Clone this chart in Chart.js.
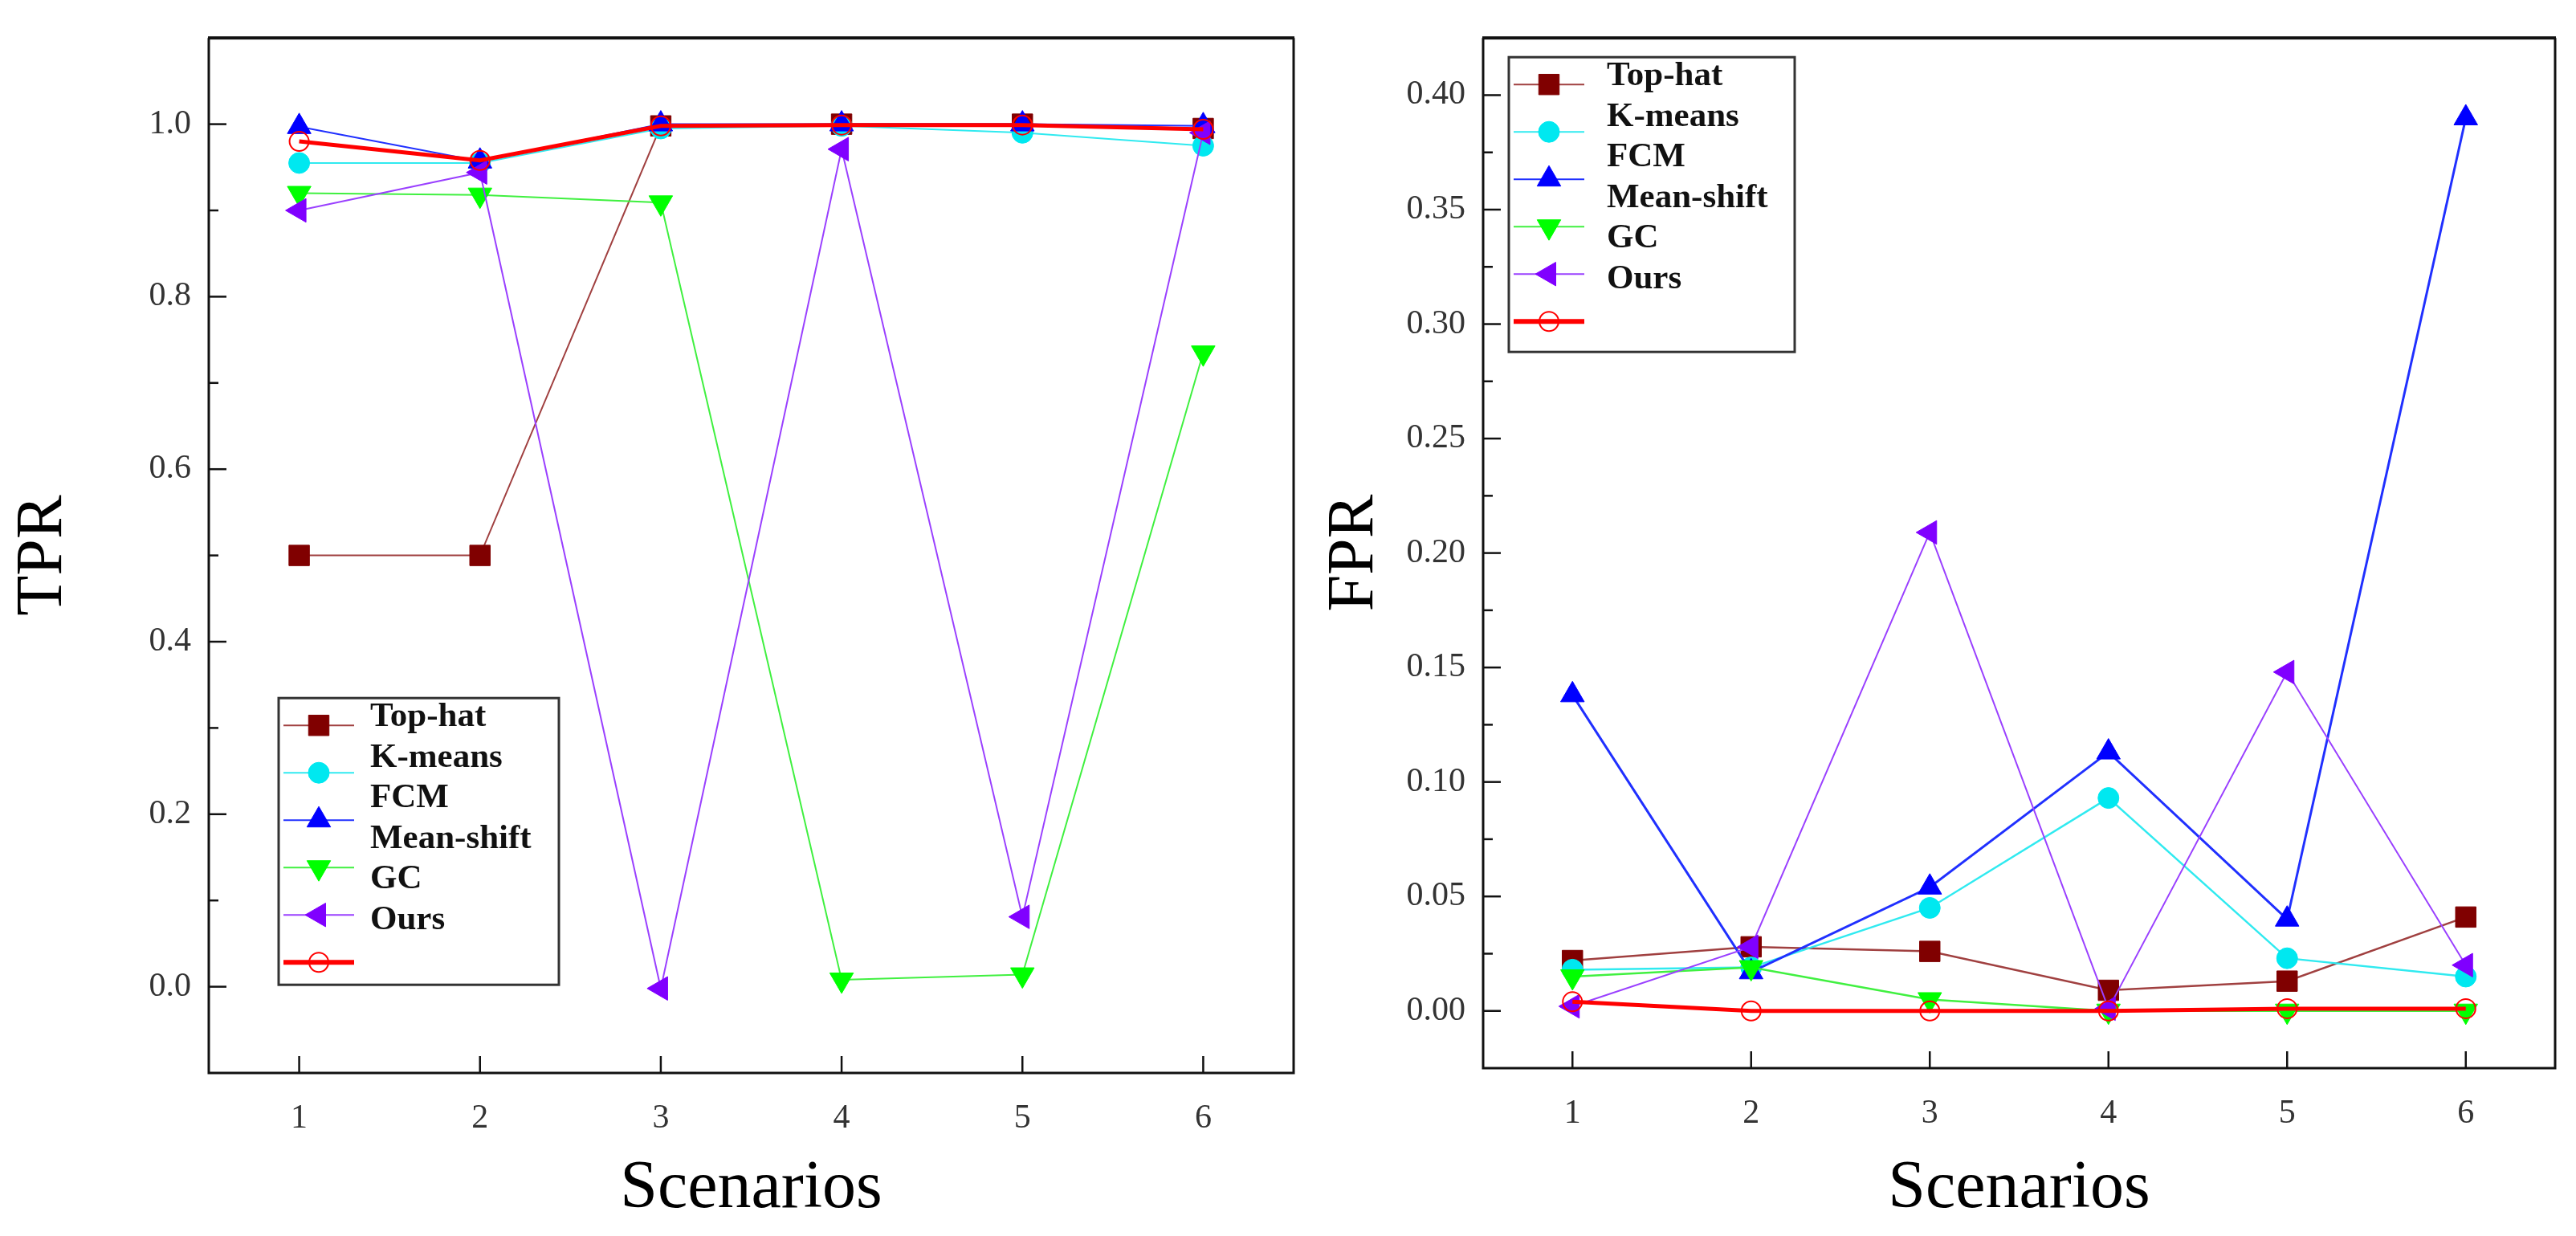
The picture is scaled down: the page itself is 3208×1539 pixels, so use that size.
<!DOCTYPE html>
<html>
<head>
<meta charset="utf-8">
<script src="https://cdn.jsdelivr.net/npm/chart.js@4.4.0/dist/chart.umd.min.js"></script>
<style>
  html, body { margin: 0; padding: 0; background: #fff; }
  body { width: 3208px; height: 1539px; position: relative; overflow: hidden; }
  .box { position: absolute; top: 0; height: 1539px; }
  #boxL { left: 0; width: 1630px; }
  #boxR { left: 1630px; width: 1578px; }
</style>
</head>
<body>
<div class="box" id="boxL"><canvas id="tpr"></canvas></div>
<div class="box" id="boxR"><canvas id="fpr"></canvas></div>
<script>
// datos
const scenarios = ['1', '2', '3', '4', '5', '6'];
const methods   = ['Top-hat', 'K-means', 'FCM', 'Mean-shift', 'GC', 'Ours'];

const tprTopHat    = [0.500, 0.500, 0.998, 1.000, 1.000, 0.995];
const tprKMeans    = [0.955, 0.955, 0.995, 0.998, 0.990, 0.975];
const tprFCM       = [0.997, 0.957, 1.000, 1.000, 1.000, 0.998];
const tprMeanShift = [0.920, 0.918, 0.909, 0.008, 0.014, 0.735];
const tprGC        = [0.900, 0.944, -0.002, 0.971, 0.081, 0.990];
const tprOurs      = [0.980, 0.958, 0.998, 0.999, 0.999, 0.994];

const fprTopHat    = [0.022, 0.028, 0.026, 0.009, 0.013, 0.041];
const fprKMeans    = [0.018, 0.019, 0.045, 0.093, 0.023, 0.015];
const fprFCM       = [0.138, 0.017, 0.054, 0.113, 0.040, 0.390];
const fprMeanShift = [0.015, 0.019, 0.005, 0.000, 0.000, 0.000];
const fprGC        = [0.002, 0.028, 0.209, 0.001, 0.148, 0.020];
const fprOurs      = [0.004, 0.000, 0.000, 0.000, 0.001, 0.001];

const tprTicks = [0.0, 0.2, 0.4, 0.6, 0.8, 1.0];
const fprTicks = [0.00, 0.05, 0.10, 0.15, 0.20, 0.25, 0.30, 0.35, 0.40];

const SERIF = '"Liberation Serif", "Times New Roman", serif';

// estilo de cada serie (marcador, color, grosor)
const styles = [
  { line: '#a04040', fill: '#800000', shape: 'rect',     rot: 0,   r: 18, w: 2 },
  { line: '#30eaf0', fill: '#00e8f0', shape: 'circle',   rot: 0,   r: 13, w: 2 },
  { line: '#2030ff', fill: '#0000ff', shape: 'triangle', rot: 0,   r: 17, w: 2 },
  { line: '#40f040', fill: '#00ff00', shape: 'triangle', rot: 180, r: 17, w: 2 },
  { line: '#9a40ff', fill: '#8000ff', shape: 'triangle', rot: 270, r: 17, w: 2 },
  { line: '#ff0000', fill: 'rgba(255,255,255,0)', shape: 'circle', rot: 0, r: 12, w: 5, open: true }
];

function makeSets(series, widths) {
  return series.map((vals, i) => {
    const s = styles[i];
    return {
      label: methods[i],
      data: vals,
      borderColor: s.line,
      borderWidth: widths[i],
      backgroundColor: s.fill,
      pointStyle: s.shape,
      pointRotation: s.rot,
      pointRadius: s.r,
      pointHoverRadius: s.r,
      pointBackgroundColor: s.fill,
      pointBorderColor: s.open ? '#ff0000' : s.fill,
      pointBorderWidth: s.open ? 2 : 1,
      order: s.open ? 0 : 6 - i,
      tension: 0,
      clip: false
    };
  });
}

// marco y marcas hacia dentro, como en Origin
const framePlugin = {
  id: 'frame',
  afterDraw(chart, args, o) {
    const { ctx, chartArea: a, scales } = chart;
    const xs = scales.x, ys = scales.y;
    ctx.save();
    ctx.strokeStyle = '#111';
    ctx.lineWidth = 2.5;
    const vals = o.yTicks;
    vals.forEach((v, i) => {
      const y = ys.getPixelForValue(v);
      ctx.beginPath(); ctx.moveTo(a.left, y); ctx.lineTo(a.left + 22, y); ctx.stroke();
      const m = v + o.yMinor;
      if (m < ys.max) {
        const ym = ys.getPixelForValue(m);
        ctx.beginPath(); ctx.moveTo(a.left, ym); ctx.lineTo(a.left + 12, ym); ctx.stroke();
      }
      if (i === 0) {
        const mb = v - o.yMinor;
        if (mb > ys.min) {
          const yb = ys.getPixelForValue(mb);
          ctx.beginPath(); ctx.moveTo(a.left, yb); ctx.lineTo(a.left + 12, yb); ctx.stroke();
        }
      }
    });
    scenarios.forEach((s, i) => {
      const x = xs.getPixelForTick(i);
      ctx.beginPath(); ctx.moveTo(x, a.bottom); ctx.lineTo(x, a.bottom - 21); ctx.stroke();
    });
    ctx.lineWidth = 3;
    ctx.beginPath();
    ctx.moveTo(a.left, a.top); ctx.lineTo(a.left, a.bottom); ctx.lineTo(a.right, a.bottom);
    ctx.lineTo(a.right, a.top);
    ctx.stroke();
    ctx.lineWidth = 4;
    ctx.beginPath(); ctx.moveTo(a.left - 1, a.top); ctx.lineTo(a.right + 1, a.top); ctx.stroke();
    ctx.restore();
  }
};

// leyenda en recuadro: los símbolos van más espaciados que los textos
const legendPlugin = {
  id: 'boxLegend',
  afterDraw(chart, args, o) {
    const { ctx, chartArea: a } = chart;
    const x0 = a.left + o.dx, y0 = a.top + o.dy;
    ctx.save();
    ctx.fillStyle = '#fff';
    ctx.fillRect(x0, y0, o.w, o.h);
    ctx.strokeStyle = '#333';
    ctx.lineWidth = 3;
    ctx.strokeRect(x0, y0, o.w, o.h);
    chart.data.datasets.forEach((ds, i) => {
      const sy = y0 + 34 + i * 59;
      ctx.strokeStyle = ds.borderColor;
      ctx.lineWidth = ds.borderWidth >= 4 ? 6 : 2;
      ctx.beginPath(); ctx.moveTo(x0 + 6, sy); ctx.lineTo(x0 + 94, sy); ctx.stroke();
      ctx.fillStyle = ds.pointBackgroundColor;
      ctx.strokeStyle = ds.pointBorderColor;
      ctx.lineWidth = ds.pointBorderWidth;
      Chart.helpers.drawPoint(ctx, {
        pointStyle: ds.pointStyle, rotation: ds.pointRotation,
        radius: ds.pointRadius, borderWidth: ds.pointBorderWidth
      }, x0 + 50, sy);
    });
    ctx.fillStyle = '#111';
    ctx.font = 'bold 43px ' + SERIF;
    ctx.textBaseline = 'middle';
    methods.forEach((m, i) => ctx.fillText(m, x0 + o.tx, y0 + 24 + i * 50.5));
    ctx.restore();
  }
};

function makeChart(id, title, series, widths, yMin, yMax, yTicks, yMinor, digits, yWidth, pad, leg) {
  return new Chart(document.getElementById(id), {
    type: 'line',
    data: { labels: scenarios, datasets: makeSets(series, widths) },
    plugins: [framePlugin, legendPlugin],
    options: {
      responsive: true,
      maintainAspectRatio: false,
      devicePixelRatio: 1,
      animation: false,
      events: [],
      layout: { padding: pad },
      plugins: {
        legend: { display: false },
        tooltip: { enabled: false },
        frame: { yTicks: yTicks, yMinor: yMinor },
        boxLegend: leg
      },
      scales: {
        x: {
          type: 'category',
          offset: true,
          grid: { display: false, drawTicks: false },
          border: { display: false },
          ticks: { color: '#333', padding: 32, font: { family: SERIF, size: 42 } },
          title: { display: true, text: 'Scenarios', color: '#000', padding: { top: 0, bottom: 8 },
                   font: { family: SERIF, size: 84 } },
          afterFit: s => { s.height = 1539 - pad.top - (pad.bottomArea); }
        },
        y: {
          min: yMin, max: yMax,
          afterBuildTicks: s => { s.ticks = yTicks.map(v => ({ value: v })); },
          grid: { display: false, drawTicks: false },
          border: { display: false },
          ticks: { color: '#333', padding: 22, font: { family: SERIF, size: 42 },
                   callback: v => Number(v).toFixed(digits) },
          title: { display: true, text: title, color: '#000', padding: { top: pad.titleTop, bottom: 0 },
                   font: { family: SERIF, size: 82 } },
          afterFit: s => { s.width = yWidth; }
        }
      }
    }
  });
}

makeChart('tpr', 'TPR',
  [tprTopHat, tprKMeans, tprFCM, tprMeanShift, tprGC, tprOurs],
  [2, 2, 2, 2, 2, 5],
  -0.1, 1.1, tprTicks, 0.1, 1, 260,
  { top: 30, right: 15, bottom: 0, left: 0, bottomArea: 1306, titleTop: 5 },
  { dx: 87, dy: 822, w: 349, h: 357, tx: 114 });

makeChart('fpr', 'FPR',
  [fprTopHat, fprKMeans, fprFCM, fprMeanShift, fprGC, fprOurs],
  [2.5, 2.5, 3, 2.5, 2, 5],
  -0.025, 0.425, fprTicks, 0.025, 2, 217,
  { top: 27, right: 26, bottom: 0, left: 0, bottomArea: 1303, titleTop: 8 },
  { dx: 32, dy: 24, w: 356, h: 367, tx: 122 });
</script>
</body>
</html>
